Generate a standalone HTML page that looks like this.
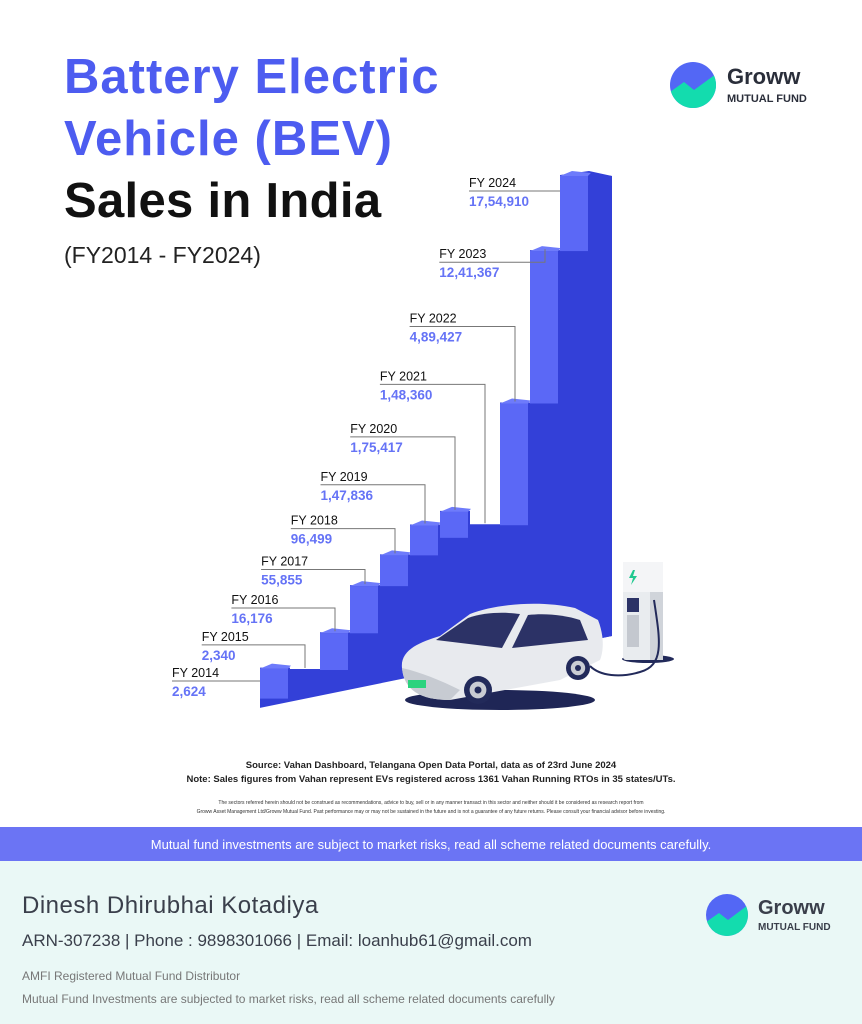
<!DOCTYPE html>
<html><head><meta charset="utf-8">
<style>
body{margin:0;width:862px;height:1024px;overflow:hidden;background:#fff;font-family:"Liberation Sans",sans-serif;}
#root{position:relative;width:862px;height:1024px;}
.abs{position:absolute;white-space:nowrap;}
</style></head>
<body><div id="root">
<div class="abs" style="left:64px;top:49px;font-size:49px;letter-spacing:1px;font-weight:bold;color:#4d5cf0;">Battery Electric</div>
<div class="abs" style="left:64px;top:111px;font-size:49px;letter-spacing:1px;font-weight:bold;color:#4d5cf0;">Vehicle (BEV)</div>
<div class="abs" style="left:64px;top:173px;font-size:49px;letter-spacing:0.3px;font-weight:bold;color:#111;">Sales in India</div>
<div class="abs" style="left:64px;top:242px;font-size:23px;color:#222;">(FY2014 - FY2024)</div>

<div class="abs" style="left:670px;top:62px;width:180px;height:48px;">
<svg width="48" height="48" style="position:absolute;left:0;top:0"><defs><clipPath id="c1"><circle cx="23" cy="23" r="23"/></clipPath></defs><g clip-path="url(#c1)"><rect width="48" height="48" fill="#5367f5"/><path d="M0 30 L14 20 L24 28 L46 12 L48 48 L0 48Z" fill="#13dcae"/></g></svg>
<div class="abs" style="left:57px;top:2px;font-size:22px;font-weight:bold;color:#2a2e3a;">Groww</div>
<div class="abs" style="left:57px;top:31px;font-size:11px;font-weight:bold;color:#2a2e3a;">MUTUAL FUND</div>
</div>

<svg id="chart" class="abs" style="left:0;top:0" width="862" height="760"></svg>

<div class="abs" style="left:0;width:862px;top:759px;text-align:center;font-size:9.5px;font-weight:bold;color:#222;line-height:14px;">Source: Vahan Dashboard, Telangana Open Data Portal, data as of 23rd June 2024<br>Note: Sales figures from Vahan represent EVs registered across 1361 Vahan Running RTOs in 35 states/UTs.</div>
<div class="abs" style="left:0;width:862px;top:799px;text-align:center;font-size:5px;color:#333;line-height:9px;">The sectors referred herein should not be construed as recommendations, advice to buy, sell or in any manner transact in this sector and neither should it be considered as research report from<br>Groww Asset Management Ltd/Groww Mutual Fund. Past performance may or may not be sustained in the future and is not a guarantee of any future returns. Please consult your financial advisor before investing.</div>

<div class="abs" style="left:0;top:827px;width:862px;height:34px;background:#6b74f4;color:#fff;font-size:13px;text-align:center;line-height:36px;">Mutual fund investments are subject to market risks, read all scheme related documents carefully.</div>
<div class="abs" style="left:0;top:861px;width:862px;height:163px;background:#eaf8f6;">
<div class="abs" style="left:22px;top:31px;font-size:24px;color:#3a3f4b;letter-spacing:0.5px;">Dinesh Dhirubhai Kotadiya</div>
<div class="abs" style="left:22px;top:70px;font-size:17px;color:#3a3f4b;">ARN-307238 | Phone : 9898301066 | Email: loanhub61@gmail.com</div>
<div class="abs" style="left:22px;top:108px;font-size:12px;color:#777;">AMFI Registered Mutual Fund Distributor</div>
<div class="abs" style="left:22px;top:131px;font-size:12px;color:#777;">Mutual Fund Investments are subjected to market risks, read all scheme related documents carefully</div>
<div class="abs" style="left:706px;top:33px;width:150px;height:44px;">
<svg width="44" height="44" style="position:absolute;left:0;top:0"><defs><clipPath id="c2"><circle cx="21" cy="21" r="21"/></clipPath></defs><g clip-path="url(#c2)"><rect width="44" height="44" fill="#5367f5"/><path d="M0 28 L13 19 L22 26 L42 11 L44 44 L0 44Z" fill="#13dcae"/></g></svg>
<div class="abs" style="left:52px;top:3px;font-size:20px;font-weight:bold;color:#3a3f4b;">Groww</div>
<div class="abs" style="left:52px;top:28px;font-size:10px;font-weight:bold;color:#3a3f4b;">MUTUAL FUND</div>
</div>
</div>
</div>
<script>
const categories=["FY 2014","FY 2015","FY 2016","FY 2017","FY 2018","FY 2019","FY 2020","FY 2021","FY 2022","FY 2023","FY 2024"];
const salesValues=[2624,2340,16176,55855,96499,147836,175417,148360,489427,1241367,1754910];
const valueLabels=["2,624","2,340","16,176","55,855","96,499","1,47,836","1,75,417","1,48,360","4,89,427","12,41,367","17,54,910"];

const NS="http://www.w3.org/2000/svg";
const svg=document.getElementById('chart');
function mk(t,a,p){const e=document.createElementNS(NS,t);for(const k in a)e.setAttribute(k,a[k]);(p||svg).appendChild(e);return e;}
const maxV=Math.max(...salesValues), minV=Math.min(...salesValues);
const EXP=0.45;
function yScale(v){const s=Math.pow(v,EXP),s0=Math.pow(minV,EXP),s1=Math.pow(maxV,EXP);return 665-(s-s0)/(s1-s0)*494;}
function xScale(i){return 260+i*30;}
function bottomY(x){return 700-(x-285)*64/327;}
const n=salesValues.length;
let pts=[[260,bottomY(260)+3]];
for(let i=0;i<n;i++){const x=xScale(i),y=yScale(salesValues[i]);pts.push([x,y+4]);pts.push([x+30,y+4]);}
const last=xScale(n-1);
pts[pts.length-1]=[last+29,yScale(salesValues[n-1])];
pts.push([last+52,yScale(salesValues[n-1])+5]);
pts.push([last+52,bottomY(last+52)]);
const body=mk('polygon',{points:pts.map(p=>p.join(',')).join(' '),fill:'#3340d8'});


for(let i=0;i<n;i++){
  const v=salesValues[i],x=xScale(i),y=yScale(v);
  if(i>0&&v<salesValues[i-1])continue;
  const prevY=i===0?y+30:yScale(salesValues[i-1]);
  const h=Math.max(26,prevY-y);
  const g=mk('g',{});
  
  
  mk('rect',{x:x,y:y+5,width:28,height:h,fill:'#5b68f6'},g);
  mk('polygon',{points:`${x},${y+5} ${x+12},${y} ${x+31},${y+2} ${x+28},${y+5}`,fill:'#6e7bfb'},g);
  if(i===n-1) mk('polygon',{points:`${x+28},${y+5} ${x+31},${y+2} ${x+52},${y+5} ${x+52},${bottomY(x+52)} ${x+28},${bottomY(x+28)}`,fill:'#3340d8'},g);
}
for(let i=0;i<n;i++){
  const lx=172+29.7*i, ly=681-36*i-0.13*i*i*i;
  const x=xScale(i),y=yScale(salesValues[i]);
  const g=mk('g',{});
  
  
  let lineEnd, vline=true;
  if(i===0||i===n-1){lineEnd=x;vline=false;}else{lineEnd=x+15;}
  let d=`M${lx},${ly} H${lineEnd}`; if(vline)d+=` V${y+3}`;
  mk('path',{d:d,stroke:'#777',fill:'none','stroke-width':1},g);
  const t1=mk('text',{x:lx,y:ly-4,'font-size':12.5,fill:'#111','font-family':'Liberation Sans, sans-serif'},g);t1.textContent=categories[i];
  const t2=mk('text',{x:lx,y:ly+15,'font-size':13.5,'font-weight':'bold',fill:'#6573f6','font-family':'Liberation Sans, sans-serif'},g);t2.textContent=valueLabels[i];
}
const ch=mk('g',{});
mk('ellipse',{cx:648,cy:659,rx:26,ry:4,fill:'#222a5a'},ch);
mk('rect',{x:623,y:562,width:40,height:98,rx:3,fill:'#e9ecef'},ch);
mk('rect',{x:650,y:562,width:13,height:98,fill:'#d0d4da'},ch);
mk('rect',{x:623,y:562,width:40,height:30,fill:'#f4f5f7'},ch);
mk('path',{d:'M633 570 l-4 8 h4 l-2 7 l6 -9 h-4 l2 -6z',fill:'#1fc98f'},ch);
mk('rect',{x:627,y:598,width:12,height:14,fill:'#2b3266'},ch);
mk('rect',{x:627,y:615,width:12,height:32,fill:'#c4c8cf'},ch);
mk('path',{d:'M654 600 C660 640 665 665 640 672 C620 678 600 676 590 666',stroke:'#222a5a','stroke-width':2,fill:'none'},ch);
const car=mk('g',{});
mk('ellipse',{cx:500,cy:700,rx:95,ry:10,fill:'#1f2656'},car);
mk('path',{d:'M402 668 C400 650 420 642 440 636 L470 614 C495 604 540 600 575 608 L598 620 C604 635 604 650 600 660 L560 680 L450 700 C420 700 404 690 402 668Z',fill:'#e8eaee'},car);
mk('path',{d:'M436 640 L468 618 C485 612 505 612 520 614 L502 648 Z',fill:'#2c3266'},car);
mk('path',{d:'M512 648 L528 615 C545 613 565 615 580 620 L588 640 Z',fill:'#2c3266'},car);
mk('path',{d:'M402 668 C420 672 440 680 460 690 L450 700 C420 700 404 690 402 668Z',fill:'#c7cbd2'},car);
mk('rect',{x:408,y:680,width:18,height:8,fill:'#2bd37e'},car);
for(const [cx,cy,r] of [[478,690,14],[578,668,12]]){mk('circle',{cx:cx,cy:cy,r:r,fill:'#222a5a'},car);mk('circle',{cx:cx,cy:cy,r:r*0.6,fill:'#c9ccd3'},car);mk('circle',{cx:cx,cy:cy,r:r*0.25,fill:'#222a5a'},car);}
</script>
</body></html>
